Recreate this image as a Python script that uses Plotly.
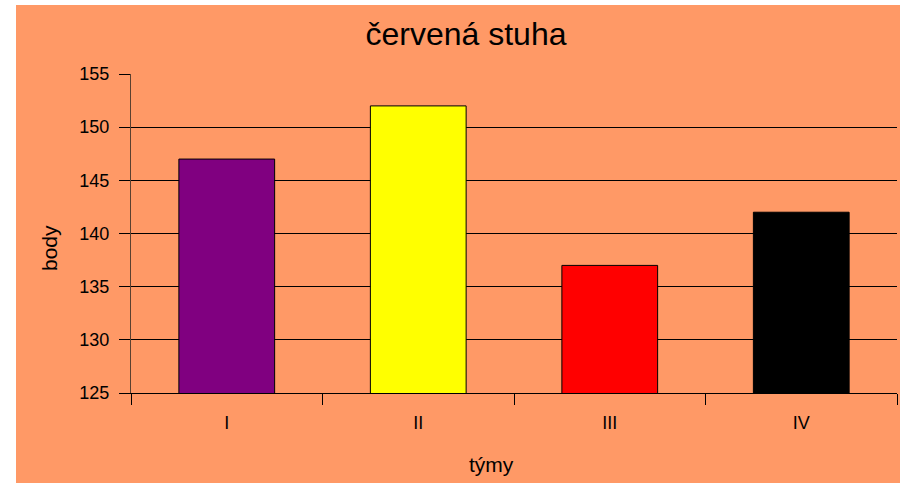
import plotly.graph_objects as go

categories = ["I", "II", "III", "IV"]
values = [147, 152, 137, 142]
bar_colors = ["#800080", "#FFFF00", "#FF0000", "#000000"]
y_ticks = [125, 130, 135, 140, 145, 150, 155]

W, H = 900, 483
L, R, T, B = 131, 3, 74, 90
pw = W - L - R
ph = H - T - B

fig = go.Figure(go.Bar(
    x=categories, y=values, width=0.5,
    marker=dict(color=bar_colors, line=dict(color="#000000", width=1)),
))

bg = "#FF9966"
font_fam = "Liberation Sans, Arial, sans-serif"
fig.update_layout(
    width=W, height=H,
    margin=dict(l=L, r=R, t=T, b=B),
    paper_bgcolor=bg, plot_bgcolor=bg,
    font=dict(family=font_fam, color="#000000"),
    title=dict(text="červená stuha", x=466 / W, xref="container", xanchor="center",
               y=1 - 34 / H, yref="container", yanchor="middle",
               font=dict(size=32, color="#000000")),
    showlegend=False,
    shapes=[
        dict(type="rect", xref="paper", yref="paper",
             x0=-L / pw, x1=(16 - L) / pw, y0=-B / ph, y1=1 + T / ph,
             fillcolor="#FFFFFF", line=dict(width=0), layer="above"),
        dict(type="rect", xref="paper", yref="paper",
             x0=-L / pw, x1=1 + R / pw, y0=1 + (T - 5) / ph, y1=1 + T / ph,
             fillcolor="#FFFFFF", line=dict(width=0), layer="above"),
    ],
    annotations=[
        dict(text="týmy", xref="paper", yref="paper",
             x=(491 - L) / pw, y=-(464 - T - ph) / ph,
             xanchor="center", yanchor="middle", showarrow=False,
             font=dict(size=21)),
        dict(text="body", xref="paper", yref="paper",
             x=-(L - 49) / pw, y=1 - (248 - T) / ph, textangle=-90,
             xanchor="center", yanchor="middle", showarrow=False,
             font=dict(size=21)),
    ],
)

fig.update_xaxes(
    type="category", tickson="boundaries", ticks="outside", ticklen=11,
    tickcolor="#000000", tickwidth=1,
    showline=True, linecolor="#000000", linewidth=1,
    showgrid=False, tickfont=dict(size=18), ticklabelstandoff=13,
)
fig.update_yaxes(
    range=[125, 155], tickvals=y_ticks, ticks="outside", ticklen=11,
    tickcolor="#000000", tickwidth=1,
    showline=True, linecolor="#5a4030", linewidth=1,
    showgrid=True, gridcolor="#000000", gridwidth=1,
    zeroline=False, tickfont=dict(size=18), ticklabelstandoff=6,
)

fig.write_html("out.html", config={"displayModeBar": False},
               post_script="document.body.style.margin='0';")
